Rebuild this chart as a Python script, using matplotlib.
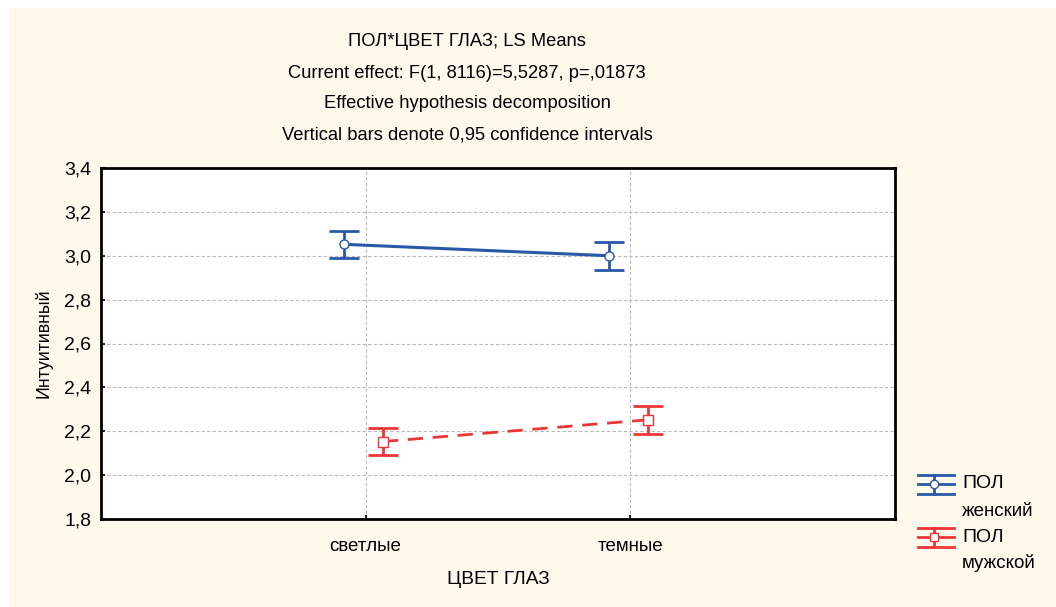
import matplotlib
matplotlib.use("Agg")
import matplotlib.pyplot as plt
from matplotlib.lines import Line2D
from matplotlib.patches import Rectangle

plt.rcParams['font.family'] = ['Liberation Sans', 'DejaVu Sans']

categories = ["светлые", "темные"]
female_mean = [3.052, 3.000]
female_ci = [0.063, 0.063]
male_mean = [2.153, 2.252]
male_ci = [0.063, 0.063]
yticks = [1.8, 2.0, 2.2, 2.4, 2.6, 2.8, 3.0, 3.2, 3.4]
ytick_labels = ["1,8", "2,0", "2,2", "2,4", "2,6", "2,8", "3,0", "3,2", "3,4"]
title_lines = ["ПОЛ*ЦВЕТ ГЛАЗ; LS Means",
               "Current effect: F(1, 8116)=5,5287, p=,01873",
               "Effective hypothesis decomposition",
               "Vertical bars denote 0,95 confidence intervals"]
legend_group = "ПОЛ"
legend_labels = ["женский", "мужской"]

blue = "#2A58A8"
red = "#EE3538"
cream = "#FFF9EC"

W, H = 1056, 607
fig = plt.figure(figsize=(W / 100, H / 100), dpi=100)
fig.patch.set_facecolor("white")
fig.patches.append(Rectangle((10 / W, 0), 1 - 10 / W, 1 - 8 / H, transform=fig.transFigure,
                             facecolor=cream, edgecolor="none", zorder=-10))

ax = fig.add_axes([101 / W, (H - 519) / H, 794 / W, 351 / H])
ax.set_facecolor("white")

xs = [1, 2]
xf = [x - 0.08 for x in xs]
xm = [x + 0.065 for x in xs]

ax.plot(xf, female_mean, color=blue, lw=2.2, zorder=3)
ax.errorbar(xf, female_mean, yerr=female_ci, fmt="none", ecolor=blue, elinewidth=2,
            capsize=10.5, capthick=2, zorder=4)
ax.plot(xf, female_mean, ls="none", marker="o", ms=6.5, mfc="white", mec=blue, mew=1, zorder=5)

ax.plot(xm, male_mean, color=red, lw=2, dashes=(5.5, 3.5), zorder=3)
ax.errorbar(xm, male_mean, yerr=male_ci, fmt="none", ecolor=red, elinewidth=2,
            capsize=10.5, capthick=2, zorder=4)
ax.plot(xm, male_mean, ls="none", marker="s", ms=6.5, mfc="white", mec=red, mew=1, zorder=5)

ax.set_xlim(0, 3)
ax.set_ylim(1.8, 3.4)
ax.set_xticks(xs)
ax.set_xticklabels(categories, fontsize=13.5)
ax.set_yticks(yticks)
ax.set_yticklabels(ytick_labels, fontsize=14)
ax.tick_params(axis="both", direction="in", length=3, width=1.2, color="black")
ax.tick_params(axis="x", pad=14)
ax.tick_params(axis="y", pad=7)
ax.grid(True, color="#B8B8B8", lw=0.8, ls=(0, (3, 2)))
ax.set_axisbelow(True)
for s in ax.spines.values():
    s.set_linewidth(2)
    s.set_color("black")

for i, t in enumerate(title_lines):
    fig.text(467 / W, 1 - (42 + 31 * i) / H, t, ha="center", va="center", fontsize=13.2)

fig.text(43 / W, 1 - 343 / H, "Интуитивный", rotation=90, ha="center", va="center", fontsize=12.8)
fig.text(498 / W, 1 - 580 / H, "ЦВЕТ ГЛАЗ", ha="center", va="center", fontsize=13.8)

# legend
def handle(color, yc, marker):
    tr = fig.transFigure
    x0, x1, xc = 918 / W, 954 / W, 934 / W
    for dy in (-9.5, 10):
        fig.add_artist(Line2D([x0, x1], [1 - (yc + dy) / H] * 2, color=color, lw=2, transform=tr))
    fig.add_artist(Line2D([x0, x1], [1 - yc / H] * 2, color=color, lw=2, transform=tr))
    fig.add_artist(Line2D([xc, xc], [1 - (yc - 9.5) / H, 1 - (yc + 10) / H], color=color, lw=2, transform=tr))
    fig.add_artist(Line2D([xc], [1 - yc / H], marker=marker, ms=6, mfc="white", mec=color,
                          mew=1, ls="none", transform=tr))

handle(blue, 484, "o")
handle(red, 537, "s")
fig.text(962 / W, 1 - 484 / H, legend_group, ha="left", va="center", fontsize=14)
fig.text(962 / W, 1 - 511 / H, legend_labels[0], ha="left", va="center", fontsize=13.5)
fig.text(962 / W, 1 - 537 / H, legend_group, ha="left", va="center", fontsize=14)
fig.text(962 / W, 1 - 563 / H, legend_labels[1], ha="left", va="center", fontsize=13.5)

fig.savefig("out.png", dpi=100, facecolor=fig.get_facecolor())
